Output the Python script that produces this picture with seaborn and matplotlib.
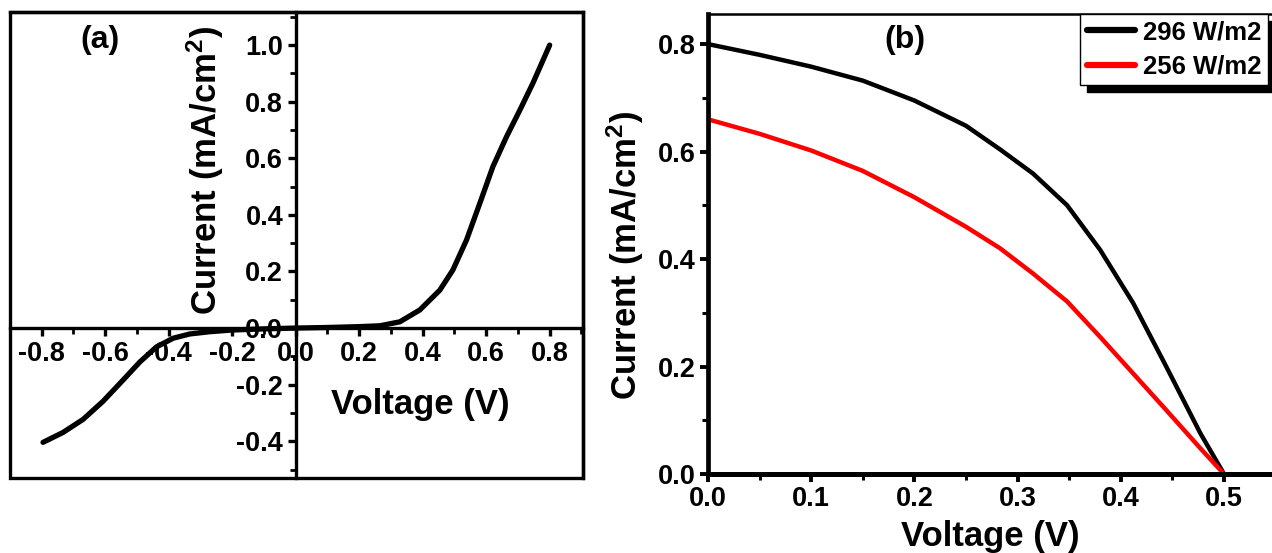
import numpy as np
import pandas as pd
import matplotlib
matplotlib.use("Agg")
import matplotlib.pyplot as plt
import seaborn as sns
from matplotlib.patches import Rectangle
from matplotlib.transforms import IdentityTransform
from matplotlib.ticker import MultipleLocator, FormatStrFormatter

# ---------------- data ----------------
# panel (a): dark I-V curve
va = [-0.796, -0.733, -0.670, -0.607, -0.544, -0.491, -0.439, -0.386, -0.334, -0.271,
      -0.200, -0.100, 0.000, 0.100, 0.200, 0.265, 0.328, 0.391, 0.454, 0.495,
      0.538, 0.580, 0.621, 0.664, 0.706, 0.747, 0.800]
ia = [-0.404, -0.369, -0.323, -0.259, -0.184, -0.120, -0.067, -0.036, -0.021, -0.013,
      -0.007, -0.003, 0.000, 0.002, 0.005, 0.008, 0.022, 0.064, 0.134, 0.205,
      0.311, 0.441, 0.570, 0.676, 0.770, 0.865, 1.000]

# panel (b): illuminated I-V curves
vb = [0.000, 0.050, 0.100, 0.150, 0.200, 0.250, 0.283, 0.315, 0.348, 0.380, 0.412, 0.444, 0.477, 0.500]
i296 = [0.800, 0.780, 0.758, 0.732, 0.695, 0.648, 0.604, 0.559, 0.500, 0.417, 0.318, 0.200, 0.076, 0.000]
i256 = [0.660, 0.633, 0.602, 0.564, 0.515, 0.460, 0.420, 0.373, 0.321, 0.255, 0.187, 0.119, 0.048, 0.000]
labels_b = ["296 W/m2", "256 W/m2"]
colors_b = ["black", "#ff0000"]

# ---------------- style ----------------
sns.set_style("ticks")
plt.rcParams["font.family"] = ["Liberation Sans", "DejaVu Sans"]
plt.rcParams["font.weight"] = "bold"
for k in ["text.color", "axes.labelcolor", "xtick.color", "ytick.color", "axes.edgecolor"]:
    plt.rcParams[k] = "black"
plt.rcParams["lines.solid_joinstyle"] = "round"
plt.rcParams["mathtext.fontset"] = "custom"
plt.rcParams["mathtext.rm"] = "Liberation Sans:bold"
plt.rcParams["mathtext.bf"] = "Liberation Sans:bold"
plt.rcParams["mathtext.it"] = "Liberation Sans:bold"

W, H = 1272, 553
fig = plt.figure(figsize=(W / 100, H / 100), dpi=100)

def px_axes(l, t, r, b):
    return fig.add_axes([l / W, (H - b) / H, (r - l) / W, (b - t) / H])

TICK_FS = 19.5
LAB_FS = 25
PANEL_FS = 23

# ---------------- panel (a) ----------------
axa = px_axes(10, 12, 583, 478)
dfa = pd.DataFrame({"V": va, "I": ia})
sns.lineplot(data=dfa, x="V", y="I", ax=axa, color="black", lw=3.8,
             sort=False, estimator=None)
axa.set_xlim(-0.90, 0.905)
axa.set_ylim(-0.53, 1.117)
axa.spines["left"].set_position(("data", 0))
axa.spines["bottom"].set_position(("data", 0))
for s in ["left", "bottom", "top", "right"]:
    axa.spines[s].set_visible(True)
    axa.spines[s].set_linewidth(2.4)
    axa.spines[s].set_color("black")
axa.add_patch(Rectangle((0, 0), 1, 1, transform=axa.transAxes, fill=False,
                        lw=2.4, ec="black", clip_on=False, zorder=5))
axa.set_xticks([-0.8, -0.6, -0.4, -0.2, 0.0, 0.2, 0.4, 0.6, 0.8])
axa.set_yticks([-0.4, -0.2, 0.0, 0.2, 0.4, 0.6, 0.8, 1.0])
axa.xaxis.set_minor_locator(MultipleLocator(0.1))
axa.yaxis.set_minor_locator(MultipleLocator(0.1))
axa.xaxis.set_major_formatter(FormatStrFormatter("%.1f"))
axa.yaxis.set_major_formatter(FormatStrFormatter("%.1f"))
axa.tick_params(which="major", direction="out", length=6, width=2.4,
                labelsize=TICK_FS, pad=3)
axa.tick_params(which="minor", direction="out", length=4, width=2.0)
axa.tick_params(top=False, right=False, which="both")
for lab in axa.get_xticklabels() + axa.get_yticklabels():
    lab.set_fontweight("bold")
axa.set_xlabel("")
axa.set_ylabel("")
axa.text(0.34, 0.661, r"Current (mA/cm$^{2}$)", transform=axa.transAxes,
         rotation=90, ha="center", va="center", fontsize=LAB_FS, fontweight="bold")
axa.text(0.716, 0.157, "Voltage (V)", transform=axa.transAxes,
         ha="center", va="center", fontsize=LAB_FS, fontweight="bold")
axa.text(0.157, 0.94, "(a)", transform=axa.transAxes,
         ha="center", va="center", fontsize=PANEL_FS, fontweight="bold")

# ---------------- panel (b) ----------------
axb = px_axes(708, 14, 1272, 474)
dfb = pd.concat([
    pd.DataFrame({"V": vb, "I": i296, "Irr": labels_b[0]}),
    pd.DataFrame({"V": vb, "I": i256, "Irr": labels_b[1]}),
], ignore_index=True)
sns.lineplot(data=dfb, x="V", y="I", hue="Irr", palette=colors_b, ax=axb,
             lw=3.2, sort=False, estimator=None)
axb.set_xlim(0, 0.5465)
axb.set_ylim(0, 0.856)
axb.spines["left"].set_linewidth(3.4)
axb.spines["bottom"].set_linewidth(3.6)
axb.spines["top"].set_linewidth(1.8)
axb.spines["top"].set_visible(True)
axb.spines["right"].set_visible(False)
for s in axb.spines.values():
    s.set_color("black")
axb.xaxis.set_major_locator(MultipleLocator(0.1))
axb.xaxis.set_minor_locator(MultipleLocator(0.05))
axb.yaxis.set_major_locator(MultipleLocator(0.2))
axb.yaxis.set_minor_locator(MultipleLocator(0.1))
axb.xaxis.set_major_formatter(FormatStrFormatter("%.1f"))
axb.yaxis.set_major_formatter(FormatStrFormatter("%.1f"))
axb.tick_params(which="major", direction="out", length=6, width=2.8,
                labelsize=TICK_FS, pad=3)
axb.tick_params(which="minor", direction="out", length=4, width=2.2)
axb.tick_params(top=False, right=False, which="both")
for lab in axb.get_xticklabels() + axb.get_yticklabels():
    lab.set_fontweight("bold")
axb.set_xlabel("")
axb.set_ylabel("")
axb.text(-0.147, 0.476, r"Current (mA/cm$^{2}$)", transform=axb.transAxes,
         rotation=90, ha="center", va="center", fontsize=LAB_FS, fontweight="bold")
axb.text(0.5, -0.135, "Voltage (V)", transform=axb.transAxes,
         ha="center", va="center", fontsize=LAB_FS, fontweight="bold")
axb.text(0.349, 0.943, "(b)", transform=axb.transAxes,
         ha="center", va="center", fontsize=PANEL_FS, fontweight="bold")
leg = axb.legend(loc="upper right", bbox_to_anchor=(0.993, 1.0), frameon=True,
                 fancybox=False, shadow=False, framealpha=1,
                 prop={"size": 18.5, "weight": "bold"}, handlelength=1.9,
                 handletextpad=0.3, borderpad=0.25, labelspacing=0.4,
                 borderaxespad=0.0, title=None)
leg.get_frame().set_edgecolor("black")
leg.get_frame().set_linewidth(1.0)
for h in leg.get_lines():
    h.set_linewidth(4.5)

fig.canvas.draw()
bb = leg.get_window_extent()
axb.add_artist(Rectangle((bb.x0 + 7, bb.y0 - 7), bb.width, bb.height,
                         transform=IdentityTransform(), color="black",
                         zorder=leg.get_zorder() - 0.1, clip_on=False))

fig.savefig("out.png", dpi=100)
